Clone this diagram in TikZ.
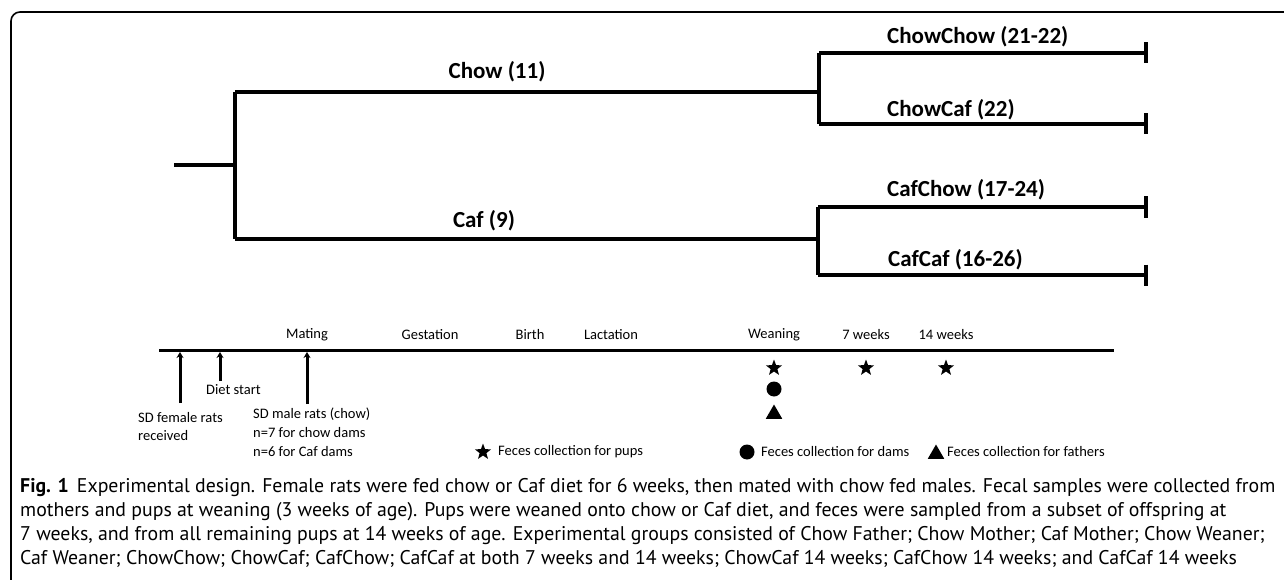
\documentclass[tikz,border=0pt]{standalone}
\usepackage{fontspec}
\setmainfont{Carlito}
\newfontfamily\capfont{PT Sans}
\usetikzlibrary{calc,arrows.meta,shapes.geometric}

\begin{document}
\begin{tikzpicture}[x=1pt,y=-1pt,
	branch/.style={line width=3.6pt},
	grouptext/.style={font=\bfseries\fontsize{23}{27}\selectfont, inner sep=0pt},
	stagetext/.style={font=\fontsize{14.5}{18}\selectfont, inner sep=0pt},
	uparrow/.style={line width=3pt, -{Stealth[length=6pt,width=7pt]}},
	endtick/.style={branch, -{Bar[width=21pt,line width=3.6pt]}},
	sym/.style={fill=black, draw=none, inner sep=0pt}]

	\useasboundingbox (0,0) rectangle (1284,580);

	% frame
	\draw[line width=1.6pt, rounded corners=9pt] (1284,12) -- (11,12) -- (11,580);

	% points
	\coordinate (root) at (174,165);
	\coordinate (rootS) at (235,165);
	\coordinate (chow) at (235,92);
	\coordinate (caf) at (235,239);

	\coordinate (chowS) at (819,92);
	\coordinate (cafS) at (818,239);

	\coordinate (chowchow) at (819,53);
	\coordinate (chowcaf) at (819,124);
	\coordinate (cafchow) at (818,207);
	\coordinate (cafcaf) at (818,275);

	\coordinate (chowchowE) at (1148,53);
	\coordinate (chowcafE) at (1148,124);
	\coordinate (cafchowE) at (1148,207);
	\coordinate (cafcafE) at (1148,275);

	% tree
	\draw[branch] (root) -- (rootS);
	\draw[branch] (chow) -- (caf);
	\draw[branch] (chow) -- (chowS);
	\draw[branch] (caf) -- (cafS);
	\draw[branch] (chowchow) -- (chowcaf);
	\draw[branch] (cafchow) -- (cafcaf);
	\draw[endtick] (chowchow) -- (chowchowE);
	\draw[endtick] (chowcaf) -- (chowcafE);
	\draw[endtick] (cafchow) -- (cafchowE);
	\draw[endtick] (cafcaf) -- (cafcafE);

	% group labels
	\node[grouptext] (lchow) at (497,72) {Chow (11)};
	\node[grouptext] (lcaf) at (484,221) {Caf (9)};
	\node[grouptext, anchor=west] (lchowchow) at (887,37) {ChowChow (21-22)};
	\node[grouptext, anchor=west] (lchowcaf) at (887,110) {ChowCaf (22)};
	\node[grouptext, anchor=west] (lcafchow) at (887,190) {CafChow (17-24)};
	\node[grouptext, anchor=west] (lcafcaf) at (888,260) {CafCaf (16-26)};

	% timeline
	\coordinate (tlL) at (159,350);
	\coordinate (tlR) at (1114,350);
	\draw[line width=3pt] (tlL) -- (tlR);

	\foreach \x/\name/\txt in {307/mating/Mating, 430/gestation/Gestation,
		530/birth/Birth, 611/lactation/Lactation, 774/weaning/Weaning,
		866/wk7/7 weeks, 946/wk14/14 weeks}
		\node[stagetext] (\name) at (\x,335) {\txt};

	% arrows
	\coordinate (recvB) at (180,403);
	\coordinate (recvT) at (180,352);
	\coordinate (dietB) at (220,381);
	\coordinate (dietT) at (220,352);
	\coordinate (mateB) at (307,404);
	\coordinate (mateT) at (307,352);
	\draw[uparrow] (recvB) -- (recvT);
	\draw[uparrow] (dietB) -- (dietT);
	\draw[uparrow] (mateB) -- (mateT);

	\node[stagetext, anchor=west, align=left] (received) at (138,427)
		{SD female rats\\received};
	\node[stagetext, anchor=west] (dietstart) at (206,390) {Diet start};
	\node[stagetext, anchor=west, align=left, font=\fontsize{14.5}{19}\selectfont]
		(males) at (253,432)
		{SD male rats (chow)\\n=7 for chow dams\\n=6 for Caf dams};

	% collections
	\node[sym, star, star points=5, star point ratio=2.4, minimum size=17pt] (s1) at (774,368) {};
	\node[sym, circle, minimum size=15pt] (c1) at (774,389) {};
	\node[sym, regular polygon, regular polygon sides=3, minimum size=19pt] (t1) at (774,414) {};
	\node[sym, star, star points=5, star point ratio=2.4, minimum size=17pt] (s2) at (866,368) {};
	\node[sym, star, star points=5, star point ratio=2.4, minimum size=17pt] (s3) at (946,368) {};

	% legend
	\node[sym, star, star points=5, star point ratio=2.4, minimum size=17pt] (kstar) at (483,452) {};
	\node[stagetext, anchor=west] (kstarT) at (498,452) {Feces collection for pups};
	\node[sym, circle, minimum size=15pt] (kcirc) at (747,452) {};
	\node[stagetext, anchor=west] (kcircT) at (761,452) {Feces collection for dams};
	\node[sym, regular polygon, regular polygon sides=3, minimum size=19pt] (ktri) at (936,454) {};
	\node[stagetext, anchor=west] (ktriT) at (947,452) {Feces collection for fathers};

	% caption
	\node[anchor=north west, align=left, inner sep=0pt,
		font=\capfont\fontsize{19.8}{24}\selectfont] (caption) at (20,478)
		{\textbf{Fig. 1}\hspace{8pt}Experimental design. Female rats were fed chow or Caf diet for 6 weeks, then mated with chow fed males. Fecal samples were collected from\\
		mothers and pups at weaning (3 weeks of age). Pups were weaned onto chow or Caf diet, and feces were sampled from a subset of offspring at\\
		7 weeks, and from all remaining pups at 14 weeks of age. Experimental groups consisted of Chow Father; Chow Mother; Caf Mother; Chow Weaner;\\
		Caf Weaner; ChowChow; ChowCaf; CafChow; CafCaf at both 7 weeks and 14 weeks; ChowCaf 14 weeks; CafChow 14 weeks; and CafCaf 14 weeks};

\end{tikzpicture}
\end{document}
